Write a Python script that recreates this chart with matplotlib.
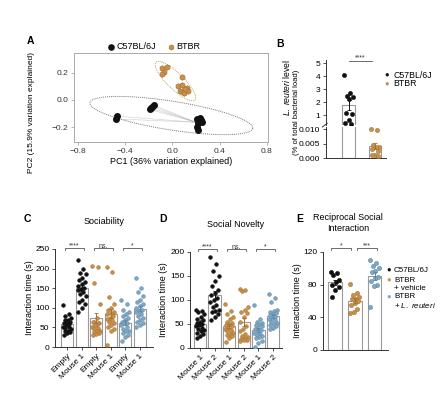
import numpy as np
import matplotlib
matplotlib.use('Agg')
import matplotlib.pyplot as plt

plt.rcParams['font.family'] = ['Liberation Sans', 'DejaVu Sans']
plt.rcParams['mathtext.fontset'] = 'custom'
plt.rcParams['mathtext.it'] = 'Liberation Sans:italic'
plt.rcParams['mathtext.rm'] = 'Liberation Sans'
plt.rcParams['axes.unicode_minus'] = True

BLACK = '#111111'
ORANGE = '#C8914B'
ORANGE_E = '#A8722F'
BLUE = '#80A8C4'
BLUE_E = '#5F89A8'

# ---------------- data ----------------
# Panel A (PCA)
pca_b6_x = [-0.47, -0.475, -0.19, -0.18, -0.17, -0.16, 0.21, 0.23, 0.24, 0.22, 0.21, 0.22, 0.25]
pca_b6_y = [-0.12, -0.14, -0.07, -0.06, -0.05, -0.04, -0.14, -0.13, -0.15, -0.17, -0.20, -0.22, -0.16]
pca_b6_centroid = [0.20, -0.165]
pca_btbr_x = [-0.09, -0.05, -0.07, -0.085, 0.08, 0.05, 0.08, 0.12, 0.06, 0.09, 0.13, 0.10, 0.11]
pca_btbr_y = [0.24, 0.245, 0.21, 0.19, 0.17, 0.10, 0.11, 0.09, 0.07, 0.06, 0.07, 0.05, 0.08]
ell_b6 = dict(center=(-0.01, -0.115), major=(0.69, -0.095), minor=(0.02, 0.105))
ell_btbr = dict(center=(0.025, 0.14), major=(0.165, -0.14), minor=(0.047, 0.043))

# Panel B (L. reuteri level)
b_groups = ['C57BL/6J', 'BTBR']
b_c57 = [4.1, 2.7, 2.5, 2.4, 2.2, 1.15, 1.05, 0.65, 0.35, 0.30]
b_btbr = [0.0100, 0.0099, 0.0045, 0.0040, 0.0038, 0.0030, 0.0025, 0.0012, 0.0010, 0.0008]

# Panel C (Sociability)
c_labels = ['Empty', 'Mouse 1', 'Empty', 'Mouse 1', 'Empty', 'Mouse 1']
c_b6_empty = [107, 85, 80, 75, 70, 68, 65, 62, 60, 58, 55, 52, 50, 48, 45, 42, 40, 38, 35, 30]
c_b6_mouse = [222, 200, 190, 185, 175, 170, 165, 160, 155, 150, 148, 145, 140, 135, 130, 120, 115, 110, 100, 90]
c_veh_empty = [207, 205, 162, 110, 75, 65, 60, 55, 65, 60, 55, 50, 48, 45, 42, 40, 38, 35, 32, 30]
c_veh_mouse = [205, 192, 127, 110, 100, 95, 90, 88, 85, 80, 75, 72, 70, 65, 60, 55, 50, 45, 40, 5]
c_lr_empty = [120, 110, 95, 90, 85, 80, 75, 70, 65, 62, 60, 55, 50, 45, 42, 40, 35, 30, 25, 15]
c_lr_mouse = [175, 150, 140, 130, 120, 115, 110, 105, 100, 95, 92, 90, 85, 80, 75, 70, 65, 60, 55, 50]
c_sig = ['****', 'ns.', '*']

# Panel D (Social novelty)
d_labels = ['Mouse 1', 'Mouse 2', 'Mouse 1', 'Mouse 2', 'Mouse 1', 'Mouse 2']
d_b6_m1 = [80, 78, 76, 70, 65, 60, 58, 55, 52, 50, 48, 45, 42, 40, 38, 35, 32, 30, 25, 20]
d_b6_m2 = [190, 175, 160, 150, 140, 130, 120, 115, 110, 105, 100, 95, 90, 85, 80, 78, 75, 70, 65, 58]
d_veh_m1 = [92, 78, 70, 65, 60, 55, 52, 50, 48, 45, 42, 40, 38, 35, 32, 30, 28, 25, 20, 12]
d_veh_m2 = [122, 120, 118, 85, 80, 75, 72, 65, 55, 45, 40, 35, 30, 25, 22, 20, 18, 17, 16, 15]
d_lr_m1 = [90, 60, 55, 52, 50, 48, 45, 42, 40, 38, 35, 32, 30, 28, 25, 22, 20, 15, 10, 3]
d_lr_m2 = [112, 105, 95, 80, 78, 75, 72, 70, 68, 65, 62, 60, 58, 55, 52, 50, 48, 45, 42, 40]
d_sig = ['****', 'ns.', '*']

# Panel E (Reciprocal social interaction)
e_b6 = [96, 94, 92, 86, 83, 80, 77, 73, 65]
e_veh = [81, 70, 67, 65, 63, 62, 60, 58, 55, 50, 47, 45]
e_lr = [110, 107, 103, 100, 97, 95, 90, 88, 85, 80, 78, 53]
e_sig = ['*', '***']

# ---------------- figure ----------------
W, H = 442, 398
fig = plt.figure(figsize=(W / 100, H / 100), dpi=100)


def ax_px(x0, y0, x1, y1):
    return fig.add_axes([x0 / W, 1 - y1 / H, (x1 - x0) / W, (y1 - y0) / H])


def ftext(x, y, s, **kw):
    fig.text(x / W, 1 - y / H, s, **kw)


FS = 6


def style(ax, spines=('left', 'bottom'), color='#333333'):
    for k, sp in ax.spines.items():
        sp.set_visible(k in spines)
        sp.set_linewidth(0.7)
        sp.set_color(color)
    ax.tick_params(length=2.5, width=0.6, color=color, labelsize=FS, pad=1.5)


def jitter(n, spread=0.28):
    k = np.arange(n)
    return ((k * 7) % 11 / 10.0 - 0.5) * 2 * spread


def bracket(ax, x0, x1, y, h, text, fs=5.5, dy=0.0):
    ax.plot([x0, x0, x1, x1], [y - h, y, y, y - h], color='#555555', lw=0.6, clip_on=False)
    ax.text((x0 + x1) / 2, y + dy, text, ha='center', va='bottom', fontsize=fs,
            color='#333333', clip_on=False)


def bar_swarm(ax, pos, vals, color, edge, width, ms=7):
    vals = np.asarray(vals, float)
    m = vals.mean()
    sem = vals.std(ddof=1) / np.sqrt(len(vals))
    ax.bar(pos, m, width=width, color='white', edgecolor='#9a9a9a', linewidth=0.8, zorder=1)
    ax.scatter(pos + jitter(len(vals), width * 0.33), vals, s=ms, color=color,
               edgecolors=edge, linewidths=0.4, zorder=3)
    ax.errorbar(pos, m, yerr=sem, color=edge, lw=0.7, capsize=1.5, capthick=0.6, zorder=4)


# ---- Panel A ----
axA = ax_px(74, 53, 268, 142)
axA.set_xlim(-0.834, 0.809)
axA.set_ylim(-0.311, 0.348)
style(axA, spines=('left', 'bottom', 'top', 'right'), color='#aaaaaa')
axA.tick_params(labelcolor='#333333')
t = np.linspace(0, 2 * np.pi, 200)
for e, col, ls in [(ell_b6, '#777777', (0, (1, 1))), (ell_btbr, '#C8A060', (0, (1, 1)))]:
    cx, cy = e['center']
    ex = cx + e['major'][0] * np.cos(t) + e['minor'][0] * np.sin(t)
    ey = cy + e['major'][1] * np.cos(t) + e['minor'][1] * np.sin(t)
    axA.plot(ex, ey, color=col, lw=0.7, ls=ls)
for x, y in zip(pca_b6_x, pca_b6_y):
    axA.plot([x, pca_b6_centroid[0]], [y, pca_b6_centroid[1]], color='#999999', lw=0.4, ls=(0, (1, 1)))
axA.scatter(pca_b6_x, pca_b6_y, s=16, color=BLACK, zorder=3)
axA.scatter(pca_btbr_x, pca_btbr_y, s=16, color=ORANGE, edgecolors=ORANGE_E, linewidths=0.5,
            marker='h', zorder=3)
axA.set_xticks([-0.8, -0.4, 0.0, 0.4, 0.8])
axA.set_xticklabels(['\u22120.8', '\u22120.4', '0.0', '0.4', '0.8'])
axA.set_yticks([-0.2, 0.0, 0.2])
axA.set_yticklabels(['\u22120.2', '0.0', '0.2'])
axA.set_xlabel('PC1 (36% variation explained)', fontsize=6.5, labelpad=2)
axA.set_ylabel('PC2 (15.9% variation explained)', fontsize=6.0)
axA.yaxis.set_label_coords(-0.2, 0.33)
hA = [axA.scatter([], [], s=14, color=BLACK), axA.scatter([], [], s=14, color=ORANGE, marker='h',
                                                        edgecolors=ORANGE_E, linewidths=0.5)]
axA.legend(hA, ['C57BL/6J', 'BTBR'], loc='lower center', bbox_to_anchor=(0.41, 0.97), ncol=2,
           frameon=False, fontsize=6.5, handletextpad=0.1, columnspacing=1.2, borderpad=0,
           handlelength=1.0)

# ---- Panel B ----
axBu = ax_px(326, 60, 386, 125)
axBl = ax_px(326, 127, 386, 158)
for ax in (axBu, axBl):
    ax.set_xlim(-0.85, 1.415)
    bar_swarm(ax, 0, b_c57, BLACK, BLACK, 0.49, ms=9)
    bar_swarm(ax, 1, b_btbr, ORANGE, ORANGE_E, 0.49, ms=9)
    ax.set_xticks([])
axBu.set_ylim(0.227, 5.255)
axBl.set_ylim(0, 0.0108)
style(axBu, spines=('left',))
style(axBl)
axBu.set_yticks([1, 2, 3, 4, 5])
axBl.set_yticks([0, 0.005, 0.010])
axBl.set_yticklabels(['0.000', '0.005', '0.010'])
axBl.tick_params(axis='x', length=0)
axBl.plot([-0.06, 0.02], [1.0, 1.12], transform=axBl.transAxes, color='#333333', lw=0.7, clip_on=False)
bracket(axBu, 0, 0.9, 5.2, 0.0, '****', fs=5, dy=-0.05)
ftext(287, 87, r'$\it{L.\ reuteri}$ level', rotation=90, ha='center', va='center', fontsize=6.2)
ftext(296, 112, '(% of total bacterial load)', rotation=90, ha='center', va='center', fontsize=5.5)
ftext(387, 75, '\u25cf', ha='center', va='center', fontsize=5.5, color=BLACK)
ftext(393, 75, 'C57BL/6J', ha='left', va='center', fontsize=6.3)
ftext(387, 84, '\u25cf', ha='center', va='center', fontsize=5.5, color=ORANGE)
ftext(393, 84, 'BTBR', ha='left', va='center', fontsize=6.3)

# ---- Panel C ----
axC = ax_px(55, 249, 153, 347)
axC.set_xlim(-0.83, 5.93)
axC.set_ylim(0, 250)
style(axC)
c_sets = [(c_b6_empty, BLACK, BLACK), (c_b6_mouse, BLACK, BLACK),
          (c_veh_empty, ORANGE, ORANGE_E), (c_veh_mouse, ORANGE, ORANGE_E),
          (c_lr_empty, BLUE, BLUE_E), (c_lr_mouse, BLUE, BLUE_E)]
for i, (v, c, e) in enumerate(c_sets):
    bar_swarm(axC, i, v, c, e, 0.83)
axC.set_xticks(range(6))
axC.set_xticklabels(c_labels, rotation=45, ha='right', rotation_mode='anchor', fontsize=FS)
axC.set_yticks(range(0, 251, 50))
for k, s in enumerate(c_sig):
    bracket(axC, 2 * k - 0.15, 2 * k + 1 + 0.15, 252, 5, s, fs=5, dy=-4)
axC.set_ylabel('Interaction time (s)', fontsize=6.5)
axC.yaxis.set_label_coords(-0.21, 0.5)
axC.set_title('Sociability', fontsize=6.5, pad=0, y=1.25)

# ---- Panel D ----
axD = ax_px(190, 252, 282, 348)
axD.set_xlim(-0.68, 5.62)
axD.set_ylim(0, 200)
style(axD)
d_sets = [(d_b6_m1, BLACK, BLACK), (d_b6_m2, BLACK, BLACK),
          (d_veh_m1, ORANGE, ORANGE_E), (d_veh_m2, ORANGE, ORANGE_E),
          (d_lr_m1, BLUE, BLUE_E), (d_lr_m2, BLUE, BLUE_E)]
for i, (v, c, e) in enumerate(d_sets):
    bar_swarm(axD, i, v, c, e, 0.85)
axD.set_xticks(range(6))
axD.set_xticklabels(d_labels, rotation=45, ha='right', rotation_mode='anchor', fontsize=FS)
axD.set_yticks(range(0, 201, 50))
for k, s in enumerate(d_sig):
    bracket(axD, 2 * k - 0.15, 2 * k + 1 + 0.15, 206, 4, s, fs=5, dy=-3)
axD.set_ylabel('Interaction time (s)', fontsize=6.5)
axD.yaxis.set_label_coords(-0.24, 0.5)
axD.set_title('Social Novelty', fontsize=6.5, pad=0, y=1.26)

# ---- Panel E ----
axE = ax_px(323, 252, 388, 350)
axE.set_xlim(-0.61, 2.68)
axE.set_ylim(0, 120)
style(axE)
e_sets = [(e_b6, BLACK, BLACK), (e_veh, ORANGE, ORANGE_E), (e_lr, BLUE, BLUE_E)]
for i, (v, c, e) in enumerate(e_sets):
    bar_swarm(axE, i, v, c, e, 0.68, ms=9)
axE.set_xticks([])
axE.set_yticks([0, 40, 80, 120])
bracket(axE, -0.2, 0.8, 125, 2.5, e_sig[0], fs=5, dy=-2)
bracket(axE, 1.1, 2.1, 125, 2.5, e_sig[1], fs=5, dy=-2)
axE.set_ylabel('Interaction time (s)', fontsize=6.5)
axE.yaxis.set_label_coords(-0.32, 0.5)
ftext(348, 217, 'Reciprocal Social', ha='center', va='center', fontsize=6.5)
ftext(348, 228, 'Interaction', ha='center', va='center', fontsize=6.5)
LFS = 5.8
ftext(389, 270, '\u25cf', ha='center', va='center', fontsize=5.5, color=BLACK)
ftext(394, 270, 'C57BL/6J', ha='left', va='center', fontsize=LFS)
ftext(389, 280, '\u25cf', ha='center', va='center', fontsize=5.5, color=ORANGE)
ftext(394, 280, 'BTBR', ha='left', va='center', fontsize=LFS)
ftext(394, 288, '+ vehicle', ha='left', va='center', fontsize=LFS)
ftext(389, 297, '\u25cf', ha='center', va='center', fontsize=5.5, color=BLUE)
ftext(394, 297, 'BTBR', ha='left', va='center', fontsize=LFS)
ftext(394, 305, r'+ $\it{L.\ reuteri}$', ha='left', va='center', fontsize=LFS)

# panel letters
for L, x, y in [('A', 30, 41), ('B', 280, 44), ('C', 27, 219), ('D', 163, 219), ('E', 300, 219)]:
    ftext(x, y, L, fontsize=7.5, fontweight='bold', ha='center', va='center')

fig.savefig('out.png', dpi=100)
